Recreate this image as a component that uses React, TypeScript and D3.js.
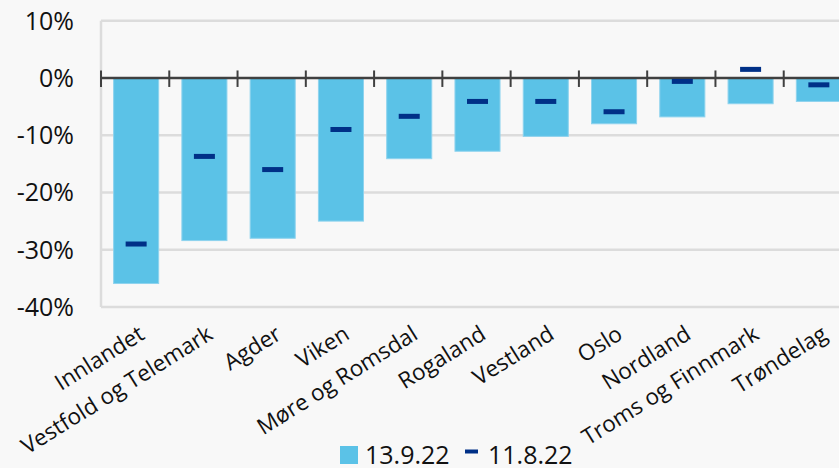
import React from 'react';
import { scaleBand, scaleLinear } from 'd3';

const regions = [
  'Innlandet', 'Vestfold og Telemark', 'Agder', 'Viken', 'Møre og Romsdal',
  'Rogaland', 'Vestland', 'Oslo', 'Nordland', 'Troms og Finnmark', 'Trøndelag',
];
const sep13 = [-35.9, -28.4, -28.0, -25.0, -14.1, -12.8, -10.2, -8.0, -6.8, -4.5, -4.1];
const aug11 = [-29.0, -13.7, -16.0, -9.0, -6.7, -4.1, -4.1, -5.9, -0.6, 1.5, -1.2];
const yTicks = [10, 0, -10, -20, -30, -40];
const legendLabels = ['13.9.22', '11.8.22'];

const width = 839;
const height = 468;
const plot = { left: 101, right: 852, top: 20.7, bottom: 307 };

const barColor = '#5bc2e7';
const markColor = '#003087';
const font = '"Open Sans", "Noto Sans", sans-serif';

const App = () => {
  const x = scaleBand<string>()
    .domain(regions)
    .range([plot.left, plot.right])
    .paddingInner(0.34)
    .paddingOuter(0.17);

  const y = scaleLinear().domain([10, -40]).range([plot.top, plot.bottom]);

  const step = x.step();
  const bw = x.bandwidth();
  const edges = regions.map(r => x(r)! - step * 0.17);
  edges.push(plot.right);

  return (
    <svg width={width} height={height} style={{ position: 'absolute', left: 0, top: 0 }}>
      <rect x={0} y={0} width={width} height={height} fill="#f8f8f8" />

      {yTicks.map(t => (
        <g key={t}>
          {t !== 0 && (
            <line x1={plot.left} x2={width} y1={y(t)} y2={y(t)} stroke="#dcdcdc" strokeWidth={2.5} />
          )}
          <text
            x={74}
            y={y(t)}
            dy="0.36em"
            textAnchor="end"
            fontFamily={font}
            fontSize={25}
            fill="#111"
          >
            {t}%
          </text>
        </g>
      ))}
      <line x1={plot.left} x2={plot.left} y1={plot.top} y2={plot.bottom} stroke="#dcdcdc" strokeWidth={2.5} />

      {regions.map((r, i) => (
        <rect
          key={r}
          x={x(r)! + 1}
          y={y(0)}
          width={bw}
          height={y(sep13[i]) - y(0)}
          fill={barColor}
          stroke="#8ed3ee"
          strokeWidth={1}
        />
      ))}

      <line x1={plot.left} x2={width} y1={y(0)} y2={y(0)} stroke="#404040" strokeWidth={2.5} />
      {edges.map((e, i) => (
        <line key={i} x1={e} x2={e} y1={y(0) - 7.5} y2={y(0) + 9} stroke="#404040" strokeWidth={2} />
      ))}

      {regions.map((r, i) => (
        <rect
          key={r}
          x={x(r)! + 1 + bw / 2 - 10.5}
          y={y(aug11[i]) - 2.5}
          width={21}
          height={5}
          fill={markColor}
        />
      ))}

      {regions.map(r => (
        <text
          key={r}
          transform={`translate(${x(r)! + 1 + bw / 2 + 10}, 338) rotate(-32)`}
          textAnchor="end"
          fontFamily={font}
          fontSize={22.5}
          fill="#111"
        >
          {r}
        </text>
      ))}

      <rect x={340} y={446} width={18} height={18} fill={barColor} />
      <text x={365} y={464} fontFamily={font} fontSize={25} fill="#111">{legendLabels[0]}</text>
      <rect x={465} y={449.5} width={13} height={4} fill={markColor} />
      <text x={488} y={464} fontFamily={font} fontSize={25} fill="#111">{legendLabels[1]}</text>
    </svg>
  );
};

export default App;
